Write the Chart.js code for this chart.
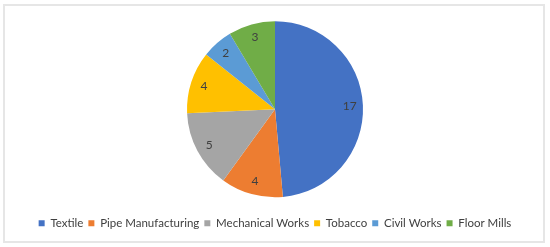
<!DOCTYPE html>
<html>
<head>
<meta charset="utf-8">
<script src="https://cdn.jsdelivr.net/npm/chart.js@4"></script>
<style>
html,body{margin:0;padding:0;background:#fff;}
#frame{position:absolute;left:3px;top:4px;width:538px;height:235px;border:2px solid #e6e6e6;}
#wrap{position:absolute;left:0;top:0;width:550px;height:247px;}
</style>
</head>
<body>
<div id="frame"></div>
<div id="wrap"><canvas id="c" width="550" height="247"></canvas></div>
<script>
const categories = ["Textile", "Pipe Manufacturing", "Mechanical Works", "Tobacco", "Civil Works", "Floor Mills"];
const counts = [17, 4, 5, 4, 2, 3];
const colors = ["#4472C4", "#ED7D31", "#A5A5A5", "#FFC000", "#5B9BD5", "#70AD47"];

const valueLabels = {
  id: 'valueLabels',
  afterDatasetsDraw(chart) {
    const ctx = chart.ctx;
    const meta = chart.getDatasetMeta(0);
    ctx.save();
    ctx.font = '12px Lato, "Open Sans", sans-serif';
    ctx.fillStyle = '#404040';
    ctx.textAlign = 'center';
    ctx.textBaseline = 'middle';
    meta.data.forEach((arc, i) => {
      const p = arc.getProps(['x','y','startAngle','endAngle','outerRadius'], true);
      const a = (p.startAngle + p.endAngle) / 2;
      const r = p.outerRadius * 0.85;
      ctx.fillText(String(chart.data.datasets[0].data[i]), p.x + Math.cos(a) * r, p.y + Math.sin(a) * r);
    });
    ctx.restore();
  }
};

new Chart(document.getElementById('c'), {
  type: 'pie',
  data: {
    labels: categories,
    datasets: [{ data: counts, backgroundColor: colors, borderWidth: 0 }]
  },
  options: {
    responsive: false,
    animation: false,
    radius: 88,
    layout: { padding: { top: 6, bottom: 8, left: 0, right: 0 } },
    plugins: {
      tooltip: { enabled: false },
      legend: {
        position: 'bottom',
        labels: {
          boxWidth: 6, boxHeight: 6, padding: 5,
          color: '#404040',
          font: { family: 'Lato, "Open Sans", sans-serif', size: 11.5 }
        }
      }
    }
  },
  plugins: [valueLabels]
});
</script>
</body>
</html>
